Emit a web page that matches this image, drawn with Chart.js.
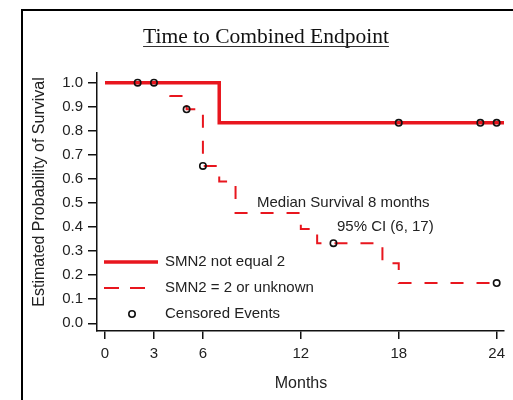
<!DOCTYPE html>
<html lang="en">
<head>
<meta charset="UTF-8">
<title>Time to Combined Endpoint</title>
<style>
  html, body { margin: 0; padding: 0; background: #fff; }
  #wrap { width: 513px; height: 400px; }
</style>
<script src="https://cdn.jsdelivr.net/npm/chart.js"></script>
</head>
<body>
<div id="wrap"><canvas id="chart" width="513" height="400"></canvas></div>
<script>
// Kaplan-Meier curves
const groupA = 'SMN2 not equal 2';
const groupB = 'SMN2 = 2 or unknown';
const monthsA = [0, 7, 24.45];
const survA   = [1.0, 0.833, 0.833];
const monthsB = [0, 4, 5, 6, 7, 8, 12, 13, 17, 18, 24];
const survB   = [1.0, 0.944, 0.889, 0.654, 0.589, 0.458, 0.392, 0.333, 0.25, 0.167, 0.167];
// censored observations (both groups)
const censorMonths = [2, 3, 18, 23, 24, 5, 6, 14, 24];
const censorSurv   = [1.0, 1.0, 0.833, 0.833, 0.833, 0.889, 0.654, 0.333, 0.167];
const xTicks = [0, 3, 6, 12, 18, 24];
const yTicks = [0, 0.1, 0.2, 0.3, 0.4, 0.5, 0.6, 0.7, 0.8, 0.9, 1.0];

const RED = '#e8161e';
const FONT = 'Arial, "Liberation Sans", sans-serif';
const pts = (xs, ys) => xs.map((x, i) => ({ x: x, y: ys[i] }));

// frame, title, axis titles, legend and notes
const decor = {
  id: 'decor',
  afterDraw(chart) {
    const c = chart.ctx;
    c.save();
    // outer frame (left + top)
    c.strokeStyle = '#000';
    c.lineWidth = 2;
    c.beginPath();
    c.moveTo(22, 400); c.lineTo(22, 10); c.lineTo(513, 10);
    c.stroke();

    // title, underlined
    c.fillStyle = '#111';
    c.font = '21.5px "Liberation Serif", "Times New Roman", serif';
    c.textAlign = 'center';
    c.textBaseline = 'alphabetic';
    const title = 'Time to Combined Endpoint';
    c.fillText(title, 266, 43);
    const tw = c.measureText(title).width;
    c.strokeStyle = '#333';
    c.lineWidth = 1;
    c.beginPath();
    c.moveTo(266 - tw / 2, 46.5); c.lineTo(266 + tw / 2, 46.5);
    c.stroke();

    // axis titles
    c.fillStyle = '#222';
    c.font = '16px ' + FONT;
    c.textBaseline = 'middle';
    c.fillText('Months', 301, 384);
    c.save();
    c.translate(40, 192);
    c.rotate(-Math.PI / 2);
    c.fillText('Estimated Probability of Survival', 0, 0);
    c.restore();

    // notes
    c.font = '15px ' + FONT;
    c.textAlign = 'left';
    c.fillText('Median Survival 8 months', 257, 203);
    c.fillText('95% CI (6, 17)', 337, 227);

    // legend
    c.strokeStyle = RED;
    c.lineWidth = 3.5;
    c.beginPath(); c.moveTo(104, 262); c.lineTo(158, 262); c.stroke();
    c.lineWidth = 2;
    c.setLineDash([15, 11]);
    c.beginPath(); c.moveTo(104, 288); c.lineTo(147, 288); c.stroke();
    c.setLineDash([]);
    c.strokeStyle = '#111';
    c.lineWidth = 1.6;
    c.beginPath(); c.arc(132, 314, 3.2, 0, Math.PI * 2); c.stroke();
    c.fillStyle = '#222';
    c.fillText(groupA, 165, 262);
    c.fillText(groupB, 165, 288);
    c.fillText('Censored Events', 165, 314);
    c.restore();
  }
};

const tickFont = { family: FONT, size: 15 };

new Chart(document.getElementById('chart'), {
  type: 'scatter',
  data: {
    datasets: [
      {
        label: 'Censored Events',
        data: pts(censorMonths, censorSurv),
        showLine: false,
        pointRadius: 3.2,
        pointBorderWidth: 1.6,
        pointBorderColor: '#111',
        pointBackgroundColor: 'rgba(0,0,0,0)',
        order: 0
      },
      {
        label: groupA,
        data: pts(monthsA, survA),
        showLine: true,
        stepped: 'before',
        borderColor: RED,
        borderWidth: 3.5,
        pointRadius: 0,
        order: 1
      },
      {
        label: groupB,
        data: pts(monthsB, survB),
        showLine: true,
        stepped: 'before',
        borderColor: RED,
        borderWidth: 2,
        borderDash: [13, 13],
        pointRadius: 0,
        order: 2
      }
    ]
  },
  options: {
    responsive: false,
    animation: false,
    layout: { padding: { top: 73, right: 9, left: 0, bottom: 0 } },
    plugins: {
      legend: { display: false },
      title: { display: false },
      tooltip: { enabled: false }
    },
    scales: {
      x: {
        type: 'linear',
        min: -0.49,
        max: 24.45,
        afterBuildTicks: s => { s.ticks = xTicks.map(v => ({ value: v })); },
        afterFit: s => { s.height = 69; },
        grid: { drawOnChartArea: false, drawTicks: true, tickLength: 8, color: '#111', lineWidth: 1.5 },
        border: { color: '#111', width: 1.5 },
        ticks: { font: tickFont, color: '#222', padding: 6, maxRotation: 0 }
      },
      y: {
        type: 'linear',
        min: -0.032,
        max: 1.04,
        afterBuildTicks: s => { s.ticks = yTicks.map(v => ({ value: v })); },
        afterFit: s => { s.width = 97; },
        grid: { drawOnChartArea: false, drawTicks: true, tickLength: 9, color: '#111', lineWidth: 1.5 },
        border: { color: '#111', width: 1.5 },
        ticks: { font: tickFont, color: '#222', padding: 5, callback: v => v.toFixed(1) }
      }
    }
  },
  plugins: [decor]
});
</script>
</body>
</html>
